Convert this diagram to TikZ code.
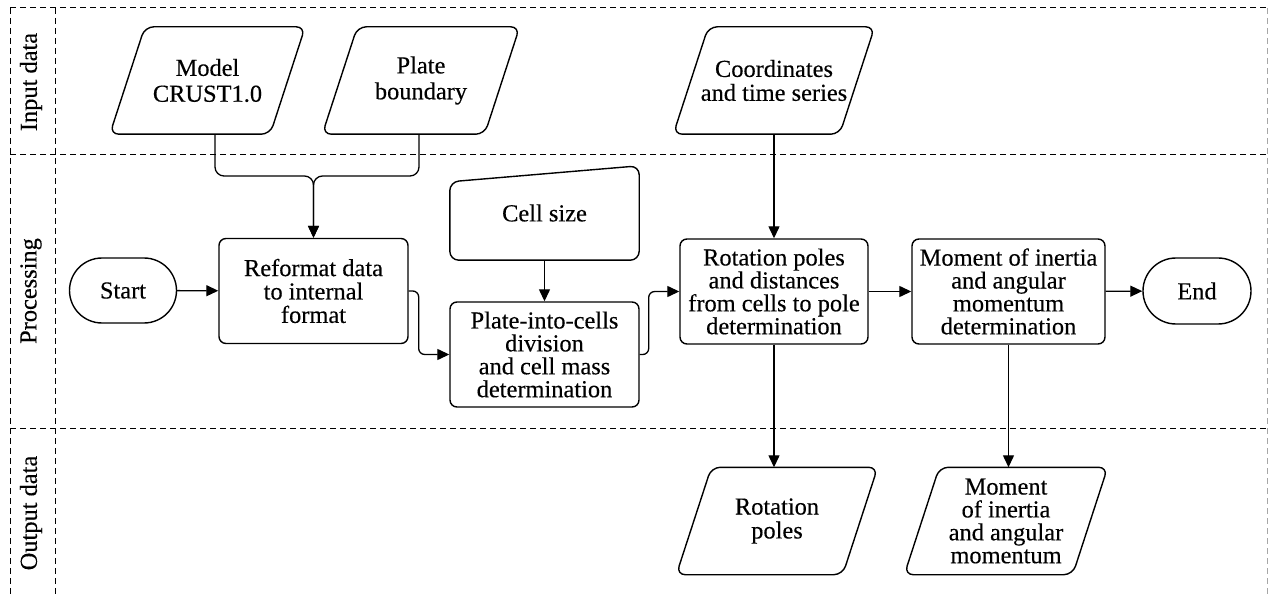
\documentclass[tikz,border=0pt]{standalone}
\usepackage{fontspec}
\setmainfont{Liberation Serif}[FakeBold=0.3]
\usetikzlibrary{arrows.meta,shapes.misc}

\begin{document}
\begin{tikzpicture}[x=1bp,y=-1bp,
  txt/.style={font=\fontsize{24.5}{23}\selectfont, align=center, inner sep=0pt},
  proc/.style={txt, draw, line width=1.4bp, rounded corners=7bp, minimum width=189bp, minimum height=105bp},
  term/.style={txt, draw, line width=1.4bp, rounded rectangle, minimum width=107bp, minimum height=65bp},
  iobox/.style={txt, minimum height=107bp},
  iodraw/.style={line width=1.4bp, rounded corners=9bp},
  lane/.style={dash pattern=on 6bp off 4bp, line width=1bp},
  arr/.style={line width=1.3bp, -{Triangle[length=12bp,width=11bp]}},
  lanelabel/.style={txt, rotate=90}
]
\useasboundingbox (0,0) rectangle (1270,595);

% swimlane frame
\draw[lane] (10,8) -- (1267,8);
\draw[lane] (10,155) -- (1267,155);
\draw[lane] (10,428) -- (1267,428);
\draw[lane] (10,8) -- (10,595);
\draw[lane] (55,8) -- (55,595);
\draw[lane, gray!70] (1267,8) -- (1267,595);

\node[lanelabel] (lin) at (31,82) {Input data};
\node[lanelabel] (lproc) at (31,291) {Processing};
\node[lanelabel] (lout) at (31,513) {Output data};

% input data
\node[iobox, minimum width=160bp, font=\fontsize{24.5}{26}\selectfont] (model) at (207.5,80.5) {Model\\CRUST1.0};
\node[iobox, minimum width=162bp, font=\fontsize{24.5}{26}\selectfont] (plate) at (421,80.5) {Plate\\boundary};
\node[iobox, minimum width=166bp, font=\fontsize{24.5}{24}\selectfont] (coord) at (774,80.5) {Coordinates\\and time series};

% processing
\node[term] (start) at (123,290.5) {Start};
\node[proc, font=\fontsize{24.5}{23.5}\selectfont] (reformat) at (313.5,291) {Reformat data\\to internal\\format};
\node[txt, minimum width=189bp, minimum height=94bp] (csize) at (544.5,213) {Cell size};
\node[proc] (cells) at (544.5,354.5) {Plate-into-cells\\division\\and cell mass\\determination};
\node[proc, minimum width=188bp] (rot) at (774,291.5) {Rotation poles\\and distances\\from cells to pole\\determination};
\node[proc, minimum width=193bp] (mom) at (1008.5,291.5) {Moment of inertia\\and angular\\momentum\\determination};
\node[term, minimum width=108bp, minimum height=66bp] (end) at (1197,291) {End};

% output data
\node[iobox, minimum width=166bp, font=\fontsize{24.5}{24}\selectfont] (rpoles) at (777,521) {Rotation\\poles};
\node[iobox, minimum width=168bp] (mout) at (1006,521) {Moment\\of inertia\\and angular\\momentum};

% data (parallelogram) outlines
\foreach \n in {model,plate,coord,rpoles,mout}
  \draw[iodraw] ([xshift=-17.5bp]\n.south west) -- ([xshift=17.5bp]\n.north west)
    -- ([xshift=17.5bp]\n.north east) -- ([xshift=-17.5bp]\n.south east) -- cycle;

% manual input outline
\draw[iodraw] (csize.south west) -- ([yshift=-16bp]csize.north west)
  -- (csize.north east) -- (csize.south east) -- cycle;

% connectors
\coordinate (join) at (313.5,176);
\draw[arr, rounded corners=9bp] ([xshift=7.5bp]model.south) |- (join) -- (reformat.north);
\draw[arr, rounded corners=9bp] ([xshift=-2bp]plate.south) |- (join) -- (reformat.north);
\draw[arr] (start) -- (reformat);
\draw[arr, rounded corners=6bp] (reformat.east) -- ++(10,0) |- (cells.west);
\draw[arr] (csize) -- (cells);
\draw[arr, rounded corners=6bp] (cells.east) -- ++(9,0) |- (rot.west);
\draw[arr] (rot.north |- coord.south) -- (rot.north);
\draw[arr] (rot) -- (mom);
\draw[arr] (mom) -- (end);
\draw[arr] (rot.south) -- (rot.south |- rpoles.north);
\draw[arr] (mom.south) -- (mom.south |- mout.north);
\end{tikzpicture}
\end{document}
